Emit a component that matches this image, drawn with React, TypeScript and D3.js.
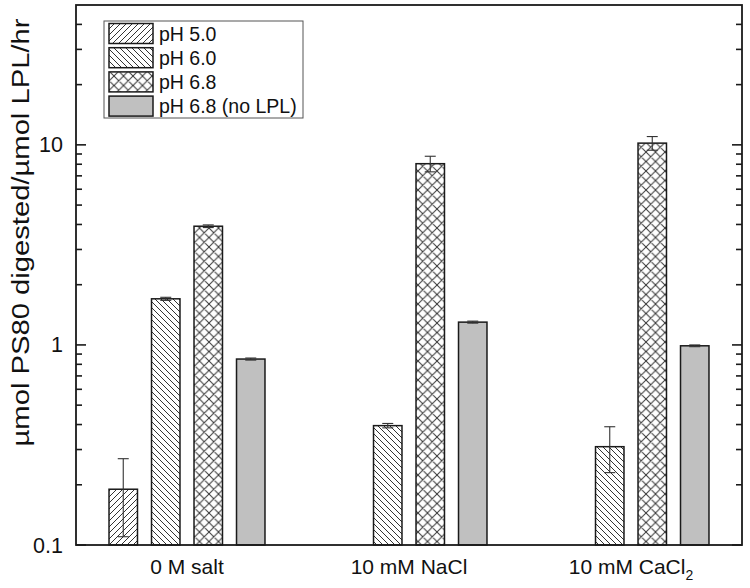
import React from "react";
import * as d3 from "d3";

const categories = ["0 M salt", "10 mM NaCl", "10 mM CaCl2"];
const seriesNames = ["pH 5.0", "pH 6.0", "pH 6.8", "pH 6.8 (no LPL)"];
const pH50 = [0.19, null, null];
const pH60 = [1.7, 0.395, 0.31];
const pH68 = [3.92, 8.05, 10.2];
const noLPL = [0.85, 1.3, 0.99];
const pH50Err = [0.08, null, null];
const pH60Err = [0.03, 0.01, 0.08];
const pH68Err = [0.06, 0.72, 0.8];
const noLPLErr = [0.01, 0.015, 0.01];
const majorTicks = [0.1, 1, 10];
const yLabel = "µmol PS80 digested/µmol LPL/hr";

const seriesValues = [pH50, pH60, pH68, noLPL];
const seriesErrors = [pH50Err, pH60Err, pH68Err, noLPLErr];
const fills = ["url(#hatchF)", "url(#hatchB)", "url(#cross)", "#c0c0c0"];

const W = 750;
const H = 588;
const L = 76;
const R = 742;
const T = 5;
const B = 545;
const FONT = "'Liberation Sans', Arial, Helvetica, sans-serif";

export default function App() {
  const y = d3.scaleLog().domain([0.1, 50]).range([B, T]);
  const x = d3.scaleBand<string>().domain(categories).range([L, R]).padding(0);
  const xs = d3
    .scaleBand<string>()
    .domain(seriesNames)
    .range([-85, 85])
    .paddingInner(0.33)
    .paddingOuter(0.165);

  const minorTicks: number[] = [];
  [0.1, 1, 10].forEach((d) => {
    for (let k = 2; k <= 9; k++) {
      const v = d * k;
      if (v < 50) minorTicks.push(v);
    }
  });

  const bars: React.ReactNode[] = [];
  const errs: React.ReactNode[] = [];
  categories.forEach((c, ci) => {
    seriesNames.forEach((s, si) => {
      const v = seriesValues[si][ci];
      if (v == null) return;
      const bx = (x(c) as number) + x.bandwidth() / 2 + (xs(s) as number);
      const bw = xs.bandwidth();
      bars.push(
        <rect
          key={`b${ci}-${si}`}
          x={bx}
          y={y(v)}
          width={bw}
          height={B - y(v)}
          fill={fills[si]}
          stroke="#1a1a1a"
          strokeWidth={1.5}
        />
      );
      const e = seriesErrors[si][ci];
      if (e != null) {
        const cx = bx + bw / 2;
        const yt = y(v + e);
        const yb = y(v - e);
        errs.push(
          <g key={`e${ci}-${si}`} stroke="#333" strokeWidth={1.1}>
            <line x1={cx} x2={cx} y1={yt} y2={yb} />
            <line x1={cx - 5.5} x2={cx + 5.5} y1={yt} y2={yt} />
            <line x1={cx - 5.5} x2={cx + 5.5} y1={yb} y2={yb} />
          </g>
        );
      }
    });
  });

  const legendRows = seriesNames.map((s, i) => {
    const ry = 23.5 + i * 24.2;
    return (
      <g key={`l${i}`}>
        <rect x={109} y={ry} width={44} height={20} fill={fills[i]} stroke="#1a1a1a" strokeWidth={1.5} />
        <text x={159} y={ry + 17} fontSize={19.5} fontFamily={FONT} fill="#111">
          {s}
        </text>
      </g>
    );
  });

  return (
    <svg
      width={W}
      height={H}
      style={{ position: "absolute", left: 0, top: 0, background: "#fff" }}
    >
      <defs>
        <pattern id="hatchF" patternUnits="userSpaceOnUse" width={6} height={6}>
          <rect width={6} height={6} fill="#fff" />
          <path d="M0,6 L6,0 M-1,1 L1,-1 M5,7 L7,5" stroke="#333" strokeWidth={1} />
        </pattern>
        <pattern id="hatchB" patternUnits="userSpaceOnUse" width={6} height={6}>
          <rect width={6} height={6} fill="#fff" />
          <path d="M0,0 L6,6 M-1,5 L1,7 M5,-1 L7,1" stroke="#333" strokeWidth={1} />
        </pattern>
        <pattern id="cross" patternUnits="userSpaceOnUse" width={9.5} height={9.5}>
          <rect width={9.5} height={9.5} fill="#fff" />
          <path
            d="M0,0 L9.5,9.5 M0,9.5 L9.5,0 M-1,1 L1,-1 M8.5,10.5 L10.5,8.5 M-1,8.5 L1,10.5 M8.5,-1 L10.5,1"
            stroke="#333"
            strokeWidth={1}
          />
        </pattern>
      </defs>

      <rect x={0} y={0} width={W} height={H} fill="#fff" />

      {bars}
      {errs}

      <rect x={L} y={T} width={R - L} height={B - T} fill="none" stroke="#1a1a1a" strokeWidth={1.8} />

      <g stroke="#1a1a1a" strokeWidth={1.6}>
        {majorTicks.map((t) => (
          <g key={`mt${t}`}>
            <line x1={L} x2={L + 10} y1={y(t)} y2={y(t)} />
            <line x1={R} x2={R - 10} y1={y(t)} y2={y(t)} />
          </g>
        ))}
        {minorTicks.map((t) => (
          <g key={`mn${t}`}>
            <line x1={L} x2={L + 6} y1={y(t)} y2={y(t)} />
            <line x1={R} x2={R - 6} y1={y(t)} y2={y(t)} />
          </g>
        ))}
      </g>

      {majorTicks.map((t) => (
        <text
          key={`tl${t}`}
          x={63}
          y={y(t) + 7.5}
          textAnchor="end"
          fontSize={21.5}
          fontFamily={FONT}
          fill="#111"
        >
          {String(t)}
        </text>
      ))}

      {categories.map((c) => {
        const cx = (x(c) as number) + x.bandwidth() / 2;
        const m = c.match(/^(.*Cl)(\d)$/);
        return (
          <text key={`xl${c}`} x={cx} y={574} textAnchor="middle" fontSize={21} fontFamily={FONT} fill="#111">
            {m ? (
              <>
                {m[1]}
                <tspan fontSize={14} dy={6}>
                  {m[2]}
                </tspan>
              </>
            ) : (
              c
            )}
          </text>
        );
      })}

      <text
        transform={`translate(29,232.5) rotate(-90)`}
        textAnchor="middle"
        fontSize={23}
        fontFamily={FONT}
        fill="#111"
        textLength={428}
        lengthAdjust="spacingAndGlyphs"
      >
        {yLabel}
      </text>

      <rect x={104} y={21} width={199} height={97} fill="#fff" stroke="#555" strokeWidth={1} />
      {legendRows}
    </svg>
  );
}
